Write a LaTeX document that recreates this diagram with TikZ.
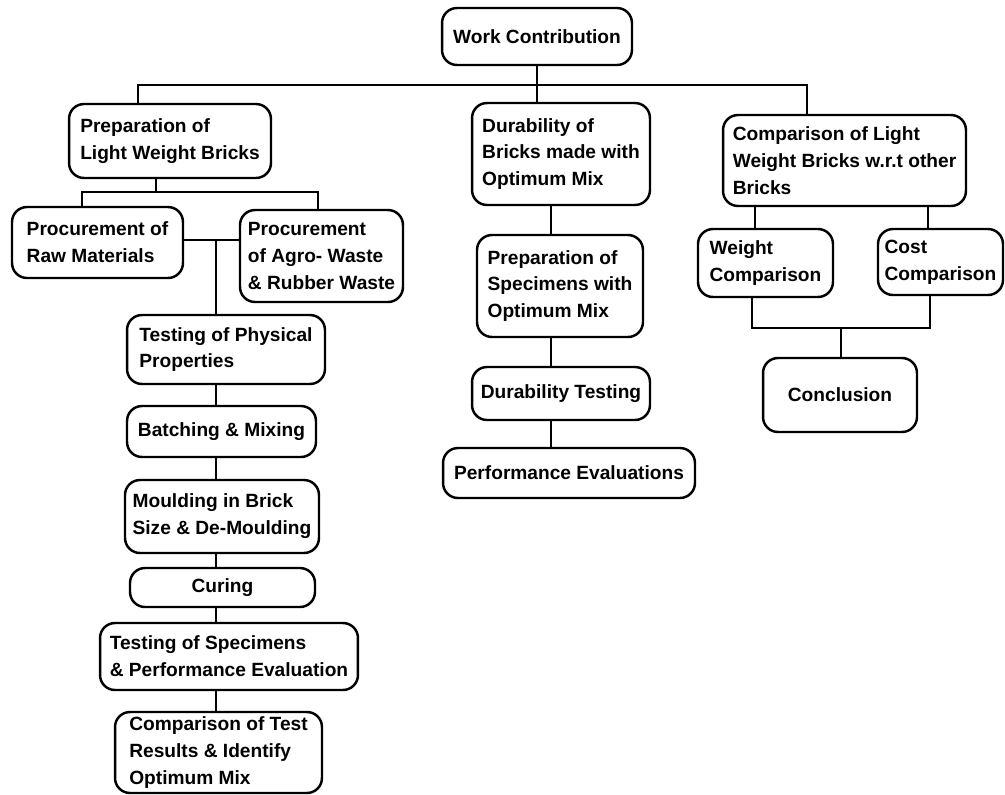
\documentclass[tikz,border=0pt]{standalone}
\usepackage{fontspec}
\setmainfont{Liberation Sans}
\begin{document}
\begin{tikzpicture}[x=0.02cm,y=-0.02cm,
box/.style={draw,line width=1.4pt,rounded corners=0.3cm,align=left,inner sep=2pt,
  font=\fontsize{10.9}{15.3}\selectfont\bfseries},
link/.style={line width=1.4pt}]
\useasboundingbox (0,0) rectangle (1005,795);

% top level
\node[box,minimum width=3.8cm,minimum height=1.14cm] (wc) at (537,36.5) {Work Contribution};

\node[box,minimum width=4.04cm,minimum height=1.48cm] (prep) at (170,141)
{Preparation of\\Light Weight Bricks};
\node[box,minimum width=3.56cm,minimum height=2.04cm] (dura) at (561,154)
{Durability of\\Bricks made with\\Optimum Mix};
\node[box,minimum width=4.86cm,minimum height=1.82cm] (comp) at (844.5,160.5)
{Comparison of Light\\Weight Bricks w.r.t other\\Bricks};

% left branch
\node[box,minimum width=3.42cm,minimum height=1.42cm] (raw) at (97.5,242.5)
{Procurement of\\Raw Materials};
\node[box,minimum width=3.26cm,minimum height=1.84cm] (agro) at (321.5,256)
{Procurement\\of Agro- Waste\\\& Rubber Waste};
\node[box,minimum width=3.96cm,minimum height=1.38cm] (phys) at (226,349.5)
{Testing of Physical\\Properties};
\node[box,minimum width=3.78cm,minimum height=1.02cm] (batch) at (221.5,431.5)
{Batching \& Mixing};
\node[box,minimum width=3.88cm,minimum height=1.46cm] (mould) at (222,516.5)
{Moulding in Brick\\Size \& De-Moulding};
\node[box,minimum width=3.7cm,minimum height=0.78cm] (curing) at (222.5,587.5)
{Curing};
\node[box,minimum width=5.16cm,minimum height=1.34cm] (spec) at (229,656.5)
{Testing of Specimens\\\& Performance Evaluation};
\node[box,minimum width=4.14cm,minimum height=1.62cm] (optm) at (218.5,752.5)
{Comparison of Test\\Results \& Identify\\Optimum Mix};

% middle branch
\node[box,minimum width=3.32cm,minimum height=2.04cm] (spmix) at (560,286)
{Preparation of\\Specimens with\\Optimum Mix};
\node[box,minimum width=3.56cm,minimum height=1.06cm] (dtest) at (561,393.5)
{Durability Testing};
\node[box,minimum width=5.04cm,minimum height=1.0cm] (perf) at (569,473)
{Performance Evaluations};

% right branch
\node[box,minimum width=2.7cm,minimum height=1.36cm] (weight) at (765.5,263)
{Weight\\Comparison};
\node[box,minimum width=2.5cm,minimum height=1.32cm] (cost) at (940.5,262)
{Cost\\Comparison};
\node[box,minimum width=3.08cm,minimum height=1.48cm] (concl) at (840,395)
{Conclusion};

% junction points
\coordinate (busL) at (138,85);
\coordinate (busM) at (537,85);
\coordinate (busR) at (807,85);
\coordinate (pj) at (156,192);
\coordinate (pjL) at (82,192);
\coordinate (pjR) at (318,192);
\coordinate (rj) at (216,240);
\coordinate (mj) at (551,0);
\coordinate (wx) at (755,0);
\coordinate (cx) at (928,0);
\coordinate (cjL) at (752,328);
\coordinate (cjR) at (930,328);
\coordinate (cj) at (841,328);

% connectors
\draw[link] (wc) -- (busM);
\draw[link] (busL |- prep.north) -- (busL) -- (busR) -- (busR |- comp.north);
\draw[link] (busM) -- (busM |- dura.north);

\draw[link] (pj |- prep.south) -- (pj);
\draw[link] (pjL |- raw.north) -- (pjL) -- (pjR) -- (pjR |- agro.north);
\draw[link] (raw.east |- rj) -- (agro.west |- rj);
\draw[link] (rj) -- (rj |- phys.north);
\foreach \a/\b in {phys/batch,batch/mould,mould/curing,curing/spec,spec/optm}
  \draw[link] (rj |- \a.south) -- (rj |- \b.north);

\foreach \a/\b in {dura/spmix,spmix/dtest,dtest/perf}
  \draw[link] (mj |- \a.south) -- (mj |- \b.north);

\draw[link] (wx |- comp.south) -- (wx |- weight.north);
\draw[link] (cx |- comp.south) -- (cx |- cost.north);
\draw[link] (cjL |- weight.south) -- (cjL) -- (cjR) -- (cjR |- cost.south);
\draw[link] (cj) -- (cj |- concl.north);

\end{tikzpicture}
\end{document}
